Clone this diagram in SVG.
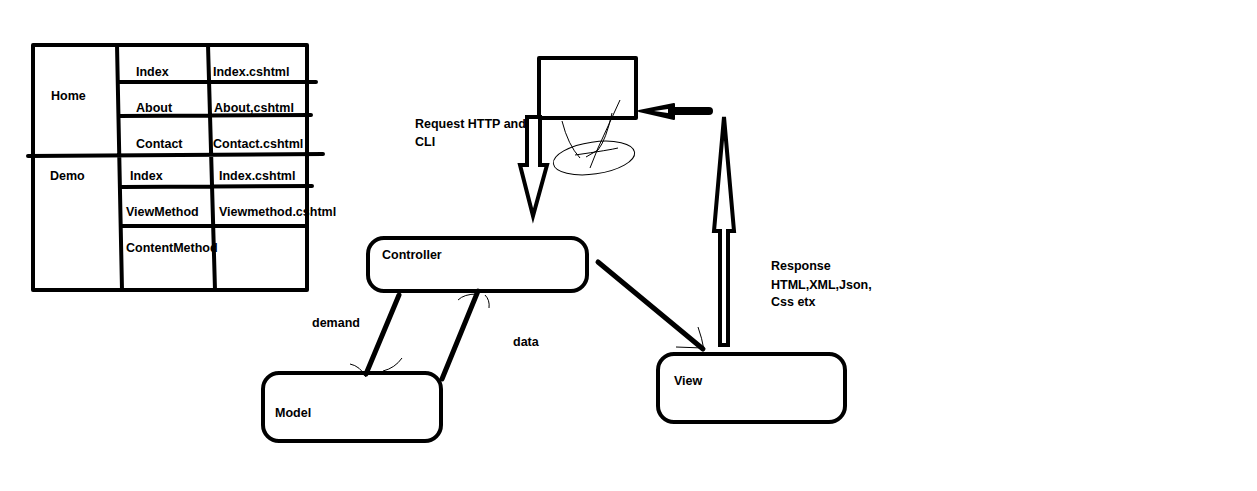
<svg xmlns="http://www.w3.org/2000/svg" width="1257" height="491" viewBox="0 0 1257 491">
<style>
.t{font-family:"Liberation Sans",Arial,sans-serif;font-size:12.5px;font-weight:bold;fill:#000}
.k{fill:none;stroke:#000;stroke-width:4;stroke-linecap:round;stroke-linejoin:round}
.k5{fill:none;stroke:#000;stroke-width:5;stroke-linecap:round}
.thin{fill:none;stroke:#000;stroke-width:1}
.box{fill:#fff;stroke:#000;stroke-width:4}
</style>
<rect width="1257" height="491" fill="#fff"/>
<g id="table">
<rect x="33" y="45" width="274" height="245" class="k"/>
<path class="k" d="M117,45 L122,290 M208,45 L215,290 M119,82 L316,82 M119,116 L311,115 M28,156 L323,154 M122,187 L312,186 M122,226 L307,226"/>
<text class="t" x="51" y="100">Home</text>
<text class="t" x="136" y="76">Index</text>
<text class="t" x="213" y="76">Index.cshtml</text>
<text class="t" x="136" y="112">About</text>
<text class="t" x="214" y="112">About,cshtml</text>
<text class="t" x="136" y="148">Contact</text>
<text class="t" x="213" y="148">Contact.cshtml</text>
<text class="t" x="50" y="180">Demo</text>
<text class="t" x="130" y="180">Index</text>
<text class="t" x="219" y="180">Index.cshtml</text>
<text class="t" x="126" y="216">ViewMethod</text>
<text class="t" x="219" y="216">Viewmethod.cshtml</text>
<text class="t" x="126" y="252">ContentMethod</text>
</g>
<g id="client">
<rect x="539" y="58" width="97" height="60" class="k"/>
<path class="thin" d="M562,121 Q568,145 580,158 M620,100 L598,148 L590,168 M612,113 Q606,140 598,150 L586,157 M575,155 Q610,150 618,148"/>
<ellipse cx="594" cy="158" rx="41" ry="16" transform="rotate(-8 594 158)" class="thin"/>
</g>
<g id="controller">
<rect x="368" y="238" width="219" height="53" rx="16" class="k"/>
<text class="t" x="382" y="259">Controller</text>
</g>
<g id="model">
<rect x="263" y="373" width="178" height="68" rx="16" class="k"/>
<text class="t" x="275" y="417">Model</text>
</g>
<g id="view">
<rect x="658" y="354" width="187" height="68" rx="16" class="k"/>
<text class="t" x="674" y="385">View</text>
</g>
<g id="connectors">
<path d="M527,117 L540,117 L540,165 L547,165 L533,216 L520,165 L527,165 Z" fill="#fff" stroke="#000" stroke-width="4" stroke-linejoin="miter"/>
<path d="M639,111 L674,104 L674,119 Z" fill="#000" stroke="#000" stroke-width="2" stroke-linejoin="round"/>
<path d="M654,111 L668,109 L668,113 Z" fill="#fff"/>
<path d="M672,111 L709,111" stroke="#000" stroke-width="8" stroke-linecap="round"/>
<path d="M720,345 L720,231 L714,231 L724,117 L734,231 L728,231 L728,345 Z" fill="#fff" stroke="#000" stroke-width="4" stroke-linejoin="miter"/>
<path class="k5" d="M399,295 L366,374"/>
<path class="k5" d="M478,291 L442,379"/>
<path class="k5" d="M598,262 L703,349"/>
<path class="thin" d="M350,364 Q360,366 366,377 M383,371 Q395,368 402,358 M458,300 Q464,294 477,294 M485,295 Q490,300 489,308 M676,347 L703,348 M698,327 Q702,338 704,350"/>
<text class="t" x="415" y="128">Request HTTP and</text>
<text class="t" x="415" y="146">CLI</text>
<text class="t" x="312" y="327">demand</text>
<text class="t" x="513" y="346">data</text>
<text class="t" x="771" y="270">Response</text>
<text class="t" x="771" y="289">HTML,XML,Json,</text>
<text class="t" x="771" y="306">Css etx</text>
</g>
</svg>
